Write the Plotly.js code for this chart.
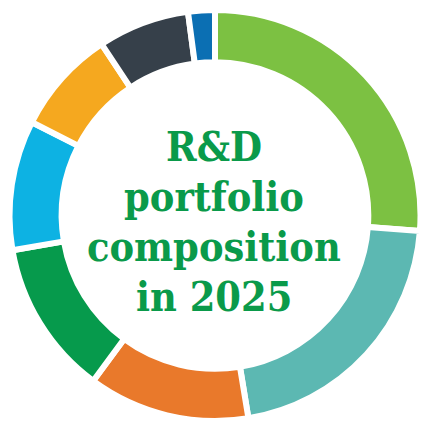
<!DOCTYPE html>
<html>
<head>
<meta charset="utf-8">
<script src="https://cdn.plot.ly/plotly-3.0.1.min.js"></script>
<style>html,body{margin:0;padding:0;background:#fff;}#chart{width:422px;height:421px;}</style>
</head>
<body>
<div id="chart"></div>
<script>
const categories = ["Segment 1","Segment 2","Segment 3","Segment 4","Segment 5","Segment 6","Segment 7","Segment 8"];
const shares = [26.2, 21.2, 12.7, 12.2, 10.2, 8.2, 7.2, 2.1];
const colors = ["#7cc142","#5cb8b2","#e9792b","#069a4c","#0db2e3","#f5a81f","#36404a","#0b6fb3"];
const centerText = ["R&amp;D","portfolio","composition","in 2025"];

const W = 422, H = 421, cx = 215, cy = 216.5, R = 206.5;
const data = [{
  type: "pie",
  labels: categories,
  values: shares,
  sort: false,
  direction: "clockwise",
  rotation: 0,
  hole: 0.746,
  textinfo: "none",
  hoverinfo: "label+percent",
  marker: {colors: colors, line: {color: "#ffffff", width: 6}},
  domain: {x: [(cx - R) / W, (cx + R) / W], y: [(H - cy - R) / H, (H - cy + R) / H]}
}];
const lineCenters = [147, 197, 247, 297];
const layout = {
  width: W, height: H,
  margin: {l: 0, r: 0, t: 0, b: 0},
  paper_bgcolor: "#ffffff",
  showlegend: false,
  annotations: centerText.map((t, i) => ({
    text: t,
    x: 214 / W, y: (H - lineCenters[i]) / H, xref: "paper", yref: "paper",
    showarrow: false, xanchor: "center", yanchor: "middle",
    font: {family: "DejaVu Serif Condensed, DejaVu Serif, serif", size: 41, color: "#0a9a4a", weight: "bold"}
  }))
};
Plotly.newPlot("chart", data, layout, {displayModeBar: false, staticPlot: true});
</script>
</body>
</html>
